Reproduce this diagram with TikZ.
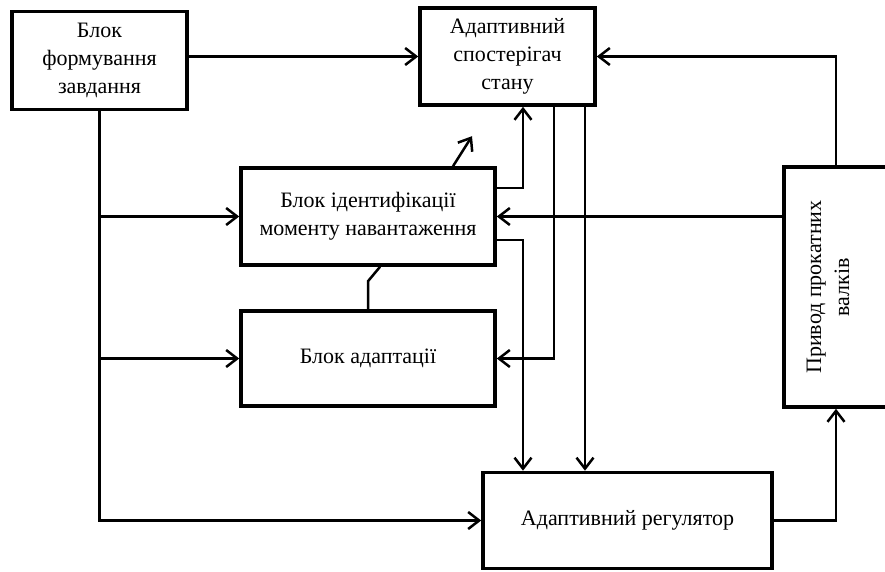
\documentclass[tikz,border=0pt]{standalone}
\usepackage{fontspec}
\setmainfont{Liberation Serif}
\usetikzlibrary{arrows.meta}

\tikzset{
  blok/.style={draw, line width=3.6pt, fill=white, align=center, inner sep=2pt,
    font=\fontsize{22}{28}\selectfont},
  zv/.style={line width=2.5pt},
  >={Straight Barb[length=11pt,width=17pt]}
}

\begin{document}
\begin{tikzpicture}[x=1pt,y=-1pt]
\useasboundingbox (0,0) rectangle (885,572);

\node[blok, minimum width=175, minimum height=98] (zavd) at (99.5,60.5) {Блок\\формування\\завдання};
\node[blok, minimum width=175, minimum height=97] (sposter) at (507.5,56.5) {Адаптивний\\спостерігач\\стану};
\node[blok, minimum width=254, minimum height=97] (ident) at (368,216.5) {Блок ідентифікації\\моменту навантаження};
\node[blok, minimum width=254, minimum height=95] (adapt) at (368,358.5) {Блок адаптації};
\node[blok, minimum width=289, minimum height=96] (rehul) at (627.5,520.5) {Адаптивний регулятор};
\node[blok, minimum width=104, minimum height=240] (privod) at (836,287) {};
\node[rotate=90, align=center, font=\fontsize{22}{28}\selectfont] (privodtxt) at (828,287) {Привод прокатних\\валків};

% vertical lines to the right of the blocks
\coordinate (ua) at (523,0);
\coordinate (ub) at (554,0);
\coordinate (uc) at (585,0);

\begin{scope}[zv]
	\draw[->] (zavd.east |- sposter.west) -- (sposter.west);
	\draw[->] (zavd.south) |- (ident.west);
	\draw[->] (zavd.south) |- (adapt.west);
	\draw[->] (zavd.south) |- (rehul.west);

	\draw[->] ([yshift=28.5pt]ident.east) -| (sposter.south -| ua);
	\draw[->] ([yshift=-23.5pt]ident.east) -| (rehul.north -| ua);
	\draw[->] (sposter.south -| ub) |- (adapt.east);
	\draw[->] (sposter.south -| uc) -- (rehul.north -| uc);

	\draw[->] (privod.west |- ident.east) -- (ident.east);
	\draw[->] (privod.north) |- (sposter.east);
	\draw[->] (rehul.east) -| (privod.south);

	% adaptation acts on the identification block
	\coordinate (kink) at ([yshift=28pt]adapt.north);
	\draw (adapt.north) -- (kink) -- ([xshift=12pt]ident.south);
	\draw[->] ([xshift=85pt]ident.north) -- ([xshift=104pt,yshift=30pt]ident.north);
\end{scope}

\end{tikzpicture}
\end{document}
